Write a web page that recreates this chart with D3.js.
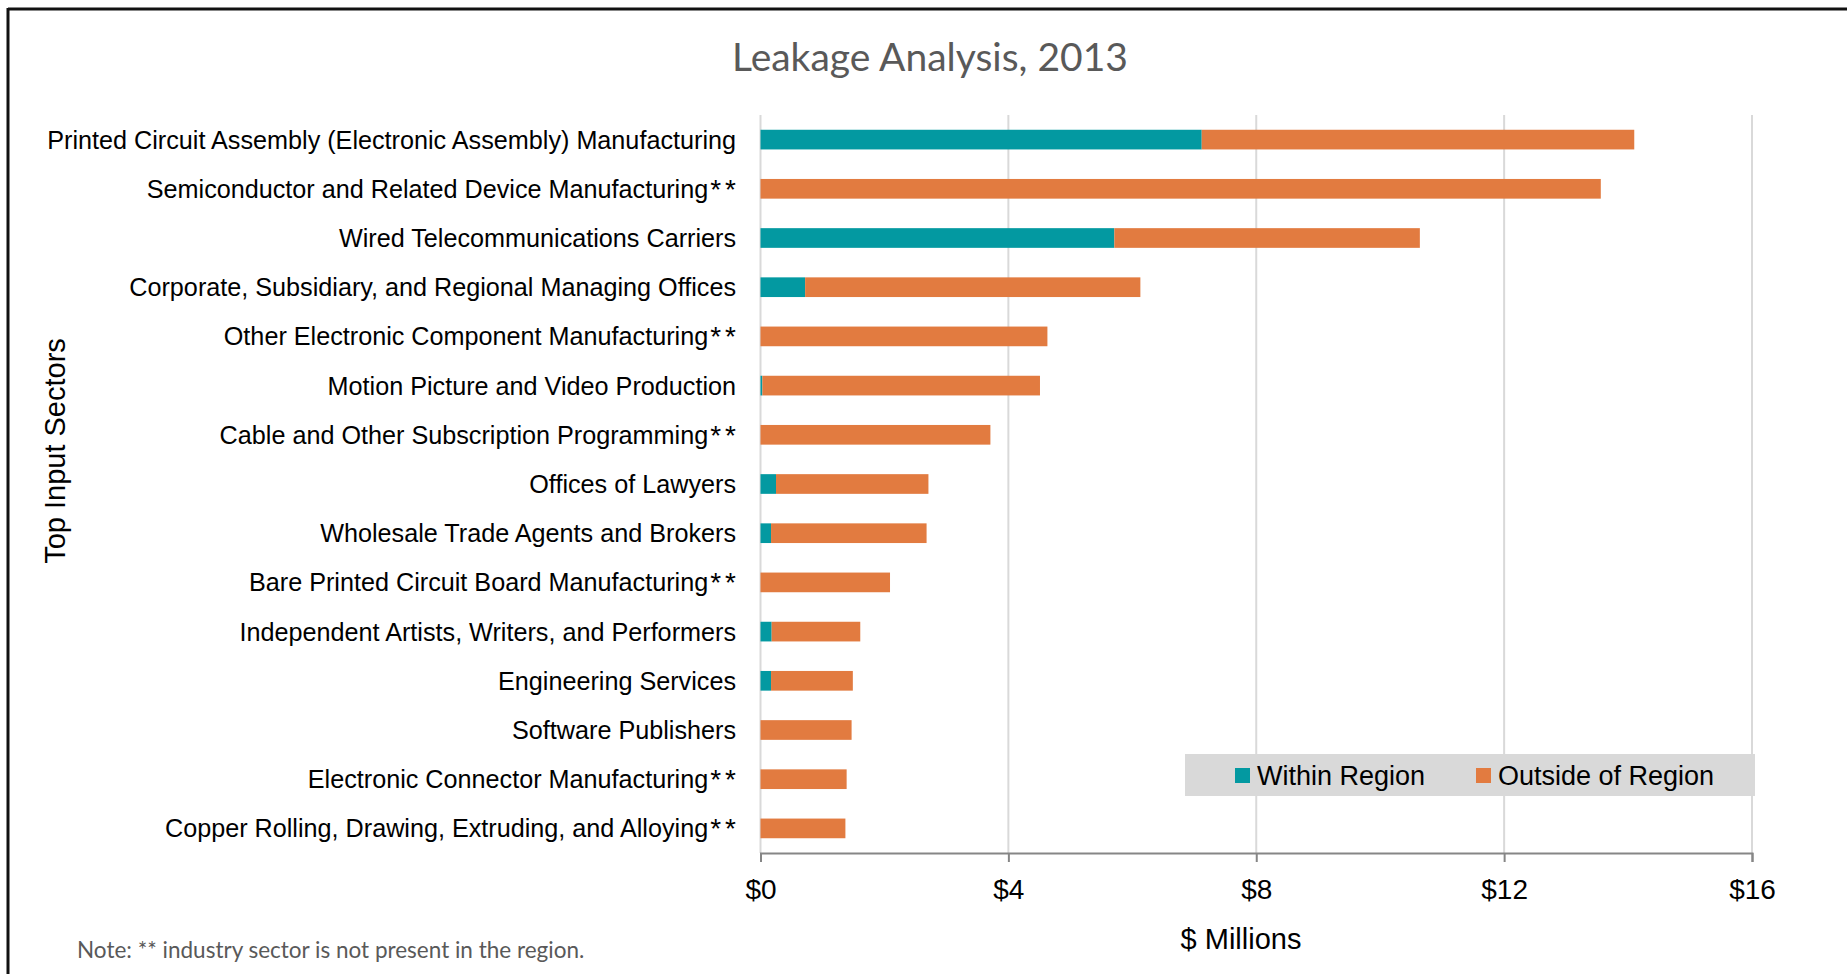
<html>
  <head>
    <script src="https://cdnjs.cloudflare.com/ajax/libs/d3/7.8.5/d3.min.js" charset="utf-8"></script>
    <style type="text/css">
    body { margin: 0; background: #fff; }
    </style>
  </head>
  <body>
  <div id="chart"></div>
  <script type="text/javascript">
  // data ($ millions)
  var sectors = [
    "Printed Circuit Assembly (Electronic Assembly) Manufacturing",
    "Semiconductor and Related Device Manufacturing**",
    "Wired Telecommunications Carriers",
    "Corporate, Subsidiary, and Regional Managing Offices",
    "Other Electronic Component Manufacturing**",
    "Motion Picture and Video Production",
    "Cable and Other Subscription Programming**",
    "Offices of Lawyers",
    "Wholesale Trade Agents and Brokers",
    "Bare Printed Circuit Board Manufacturing**",
    "Independent Artists, Writers, and Performers",
    "Engineering Services",
    "Software Publishers",
    "Electronic Connector Manufacturing**",
    "Copper Rolling, Drawing, Extruding, and Alloying**"
  ]
  var within = [7.12, 0, 5.71, 0.72, 0, 0.03, 0, 0.25, 0.17, 0, 0.18, 0.17, 0, 0, 0]
  var outside = [6.98, 13.56, 4.93, 5.41, 4.63, 4.48, 3.71, 2.46, 2.51, 2.09, 1.43, 1.32, 1.47, 1.39, 1.37]
  var xTicks = [0, 4, 8, 12, 16]
  var seriesNames = ["Within Region", "Outside of Region"]
  var colors = ["#0399a1", "#e27b40"]

  var width = 1847,
    height = 974;
  // plot area (window.top is reserved, so use other names)
  var plotLeft = 760.5, plotRight = 1752, plotTop = 115, plotBottom = 853;

  var svg = d3.select("#chart")
    .append("svg")
    .attr("width", width)
    .attr("height", height)

  // frame (cropped at right and bottom)
  svg.append("line").attr("x1", 8).attr("y1", 9).attr("x2", width).attr("y2", 9)
    .style("stroke", "#111").style("stroke-width", 3)
  svg.append("line").attr("x1", 8).attr("y1", 8).attr("x2", 8).attr("y2", height)
    .style("stroke", "#111").style("stroke-width", 3)

  var x = d3.scaleLinear().domain([0, 16]).range([plotLeft, plotRight])
  var y = d3.scaleBand().domain(sectors).range([plotTop, plotBottom]).paddingInner(0.6).paddingOuter(0.3)

  // gridlines
  svg.selectAll(".grid").data(xTicks).enter().append("line")
    .attr("class", "grid")
    .attr("x1", function(d){return x(d)})
    .attr("x2", function(d){return x(d)})
    .attr("y1", plotTop)
    .attr("y2", plotBottom)
    .style("stroke", "#d9d9d9")
    .style("stroke-width", 2)

  var rows = sectors.map(function(s, i){
    return {name: s, w: within[i], o: outside[i]}
  })
  var stacked = d3.stack().keys(["w", "o"])(rows)

  svg.selectAll(".series").data(stacked).enter().append("g")
    .attr("class", "series")
    .style("fill", function(d, i){return colors[i]})
    .selectAll("rect").data(function(d){return d}).enter().append("rect")
      .attr("x", function(d){return x(d[0])})
      .attr("width", function(d){return x(d[1]) - x(d[0])})
      .attr("y", function(d){return y(d.data.name)})
      .attr("height", y.bandwidth())

  // bottom axis
  var xAxis = d3.axisBottom(x).tickValues(xTicks).tickSize(9).tickPadding(17)
    .tickFormat(function(d){return "$" + d})
  var ax = svg.append("g").attr("transform", "translate(0," + plotBottom + ")").call(xAxis)
  ax.select(".domain").style("stroke", "#868686").style("stroke-width", 2)
  ax.selectAll(".tick line").style("stroke", "#868686").style("stroke-width", 2)
  ax.selectAll(".tick text")
    .style("font-family", "Liberation Sans")
    .style("font-size", "28px")
    .style("fill", "#000")

  // category labels, the ** marks are set a bit wider like the original font
  var cats = svg.selectAll(".cat").data(sectors).enter().append("text")
    .attr("class", "cat")
    .attr("x", 736)
    .attr("y", function(d){return y(d) + y.bandwidth() / 2})
    .attr("text-anchor", "end")
    .attr("dominant-baseline", "central")
    .style("font-family", "Liberation Sans")
    .style("font-size", "25.2px")
    .style("fill", "#000")
  cats.append("tspan").text(function(d){return d.replace("**", "")})
  var starred = cats.filter(function(d){return d.indexOf("**") >= 0})
  starred.append("tspan").attr("dx", 2).style("font-size", "28px").text("*")
  starred.append("tspan").attr("dx", 4).style("font-size", "28px").text("*")

  // titles
  svg.append("text")
    .attr("x", 930).attr("y", 71)
    .attr("text-anchor", "middle")
    .style("font-family", "Lato")
    .style("font-size", "39px")
    .style("fill", "#595959")
    .text("Leakage Analysis, 2013")

  svg.append("text")
    .attr("transform", "translate(55,451) rotate(-90)")
    .attr("text-anchor", "middle")
    .attr("dominant-baseline", "central")
    .style("font-family", "Liberation Sans")
    .style("font-size", "29px")
    .text("Top Input Sectors")

  svg.append("text")
    .attr("x", 1241).attr("y", 939)
    .attr("text-anchor", "middle")
    .attr("dominant-baseline", "central")
    .style("font-family", "Liberation Sans")
    .style("font-size", "29px")
    .text("$ Millions")

  svg.append("text")
    .attr("x", 77).attr("y", 949)
    .attr("dominant-baseline", "central")
    .style("font-family", "Lato")
    .style("font-size", "22.5px")
    .style("fill", "#595959")
    .text("Note: ** industry sector is not present in the region.")

  // legend
  var legend = svg.append("g")
  legend.append("rect")
    .attr("x", 1185).attr("y", 754).attr("width", 570).attr("height", 42)
    .style("fill", "#d9d9d9")
  var legX = [1235, 1476]
  var items = legend.selectAll(".item").data(seriesNames).enter().append("g")
    .attr("class", "item")
  items.append("rect")
    .attr("x", function(d, i){return legX[i]})
    .attr("y", 768)
    .attr("width", 15)
    .attr("height", 15)
    .style("fill", function(d, i){return colors[i]})
  items.append("text")
    .attr("x", function(d, i){return legX[i] + 22})
    .attr("y", 776)
    .attr("dominant-baseline", "central")
    .style("font-family", "Liberation Sans")
    .style("font-size", "27px")
    .text(function(d){return d})
  </script>
  </body>
</html>
